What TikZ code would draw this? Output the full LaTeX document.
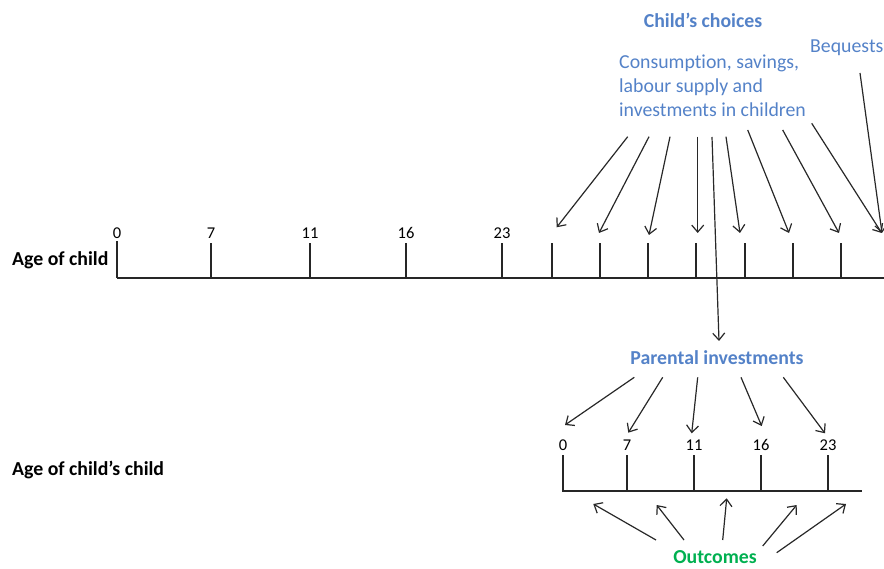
\documentclass[tikz,border=0pt]{standalone}
\usepackage{fontspec}
\setmainfont[Ligatures=NoCommon]{Carlito}
\usetikzlibrary{arrows.meta}
\definecolor{cblue}{RGB}{84,130,200}
\definecolor{cgreen}{RGB}{0,176,80}
\definecolor{cline}{RGB}{40,40,40}
\tikzset{
  axis/.style={line width=1.4pt, black!85},
  tick/.style={line width=1.4pt, black!85},
  arr/.style={line width=1.2pt, cline, -{Straight Barb[length=7pt,width=12pt,line width=1.2pt]}},
  blue/.style={text=cblue, font=\fontsize{19.8}{24}\selectfont, inner sep=0pt, align=left},
  bluebold/.style={text=cblue, font=\fontsize{19.8}{24}\selectfont\bfseries, inner sep=0pt},
  agelbl/.style={font=\fontsize{19.8}{23}\selectfont\bfseries, inner sep=0pt, anchor=west},
  num/.style={font=\fontsize{16.5}{18}\selectfont, inner sep=0pt},
}
\begin{document}
\begin{tikzpicture}[x=1pt,y=-1pt]
\useasboundingbox (0,0) rectangle (884,569);
% texts
\node[bluebold] (cc) at (703,20) {Child’s choices};
\node[blue, anchor=north west] (cons) at (619,55) {Consumption, savings,\\labour supply and\\investments in children};
\node[blue, anchor=west] (beq) at (810,48) {Bequests};
\node[bluebold] (pi) at (717,358) {Parental investments};
\node[text=cgreen, font=\fontsize{19.8}{23}\selectfont\bfseries, inner sep=0pt] (out) at (715,557) {Outcomes};
\node[agelbl] (ac) at (12,260.5) {Age of child};
\node[agelbl] (acc) at (12,470) {Age of child’s child};
% top axis
\coordinate (a0) at (117,278);
\coordinate (aend) at (884,278);
\draw[axis] (a0) -- (aend);
\foreach \x/\l [count=\i] in {117/0,211/7,310/11,406/16,502/23}{
  \draw[tick] (\x,278) -- (\x,243);
  \node[num] (tn\i) at (\x,233) {\l};
}
\draw[tick] (117,278) -- (117,241);
\foreach \x in {552,600,648,696,745,793,841}{
  \draw[tick] (\x,278) -- (\x,243);
}
% arrows from choices
\foreach \sx/\sy/\ex/\ey [count=\i] in {627.7/136.7/556.7/227.3, 649/136.7/599/233, 670/136.7/649/235, 697.7/136.7/697.7/233, 726/136.7/740/233, 747.7/130/789/233, 782.7/130/839/233, 811.7/123.3/881.7/233}{
  \coordinate (cs\i) at (\sx,\sy);
  \coordinate (ce\i) at (\ex,\ey);
  \draw[arr] (cs\i) -- (ce\i);
}
\coordinate (bs) at (860,73);
\coordinate (be) at (882,233);
\draw[arr] (bs) -- (be);
% long arrow to parental investments
\coordinate (ls) at (712,137);
\coordinate (le) at (719,341);
\draw[arr] (ls) -- (le);
% bottom axis
\coordinate (b0) at (562,491);
\coordinate (bend) at (862,491);
\draw[axis] (b0) -- (bend);
\foreach \x/\l [count=\i] in {563/0,627/7,694/11,761/16,828/23}{
  \draw[tick] (\x,491) -- (\x,455);
  \node[num] (bn\i) at (\x,445) {\l};
}
% arrows from parental investments
\foreach \sx/\sy/\ex/\ey [count=\i] in {634.3/377.3/565/425, 662.7/377.3/628.3/432.7, 697.7/377.3/691.7/433.3, 741/377.3/761.7/426, 783.3/377.3/825/433.3}{
  \coordinate (ps\i) at (\sx,\sy);
  \coordinate (pe\i) at (\ex,\ey);
  \draw[arr] (ps\i) -- (pe\i);
}
% arrows from outcomes
\foreach \sx/\sy/\ex/\ey [count=\i] in {656/540/593.3/504, 684/540/656.7/505, 722.7/540/726.7/498.3, 762.7/546/796.7/505, 776.7/552.7/846/504}{
  \coordinate (os\i) at (\sx,\sy);
  \coordinate (oe\i) at (\ex,\ey);
  \draw[arr] (os\i) -- (oe\i);
}
\end{tikzpicture}
\end{document}
